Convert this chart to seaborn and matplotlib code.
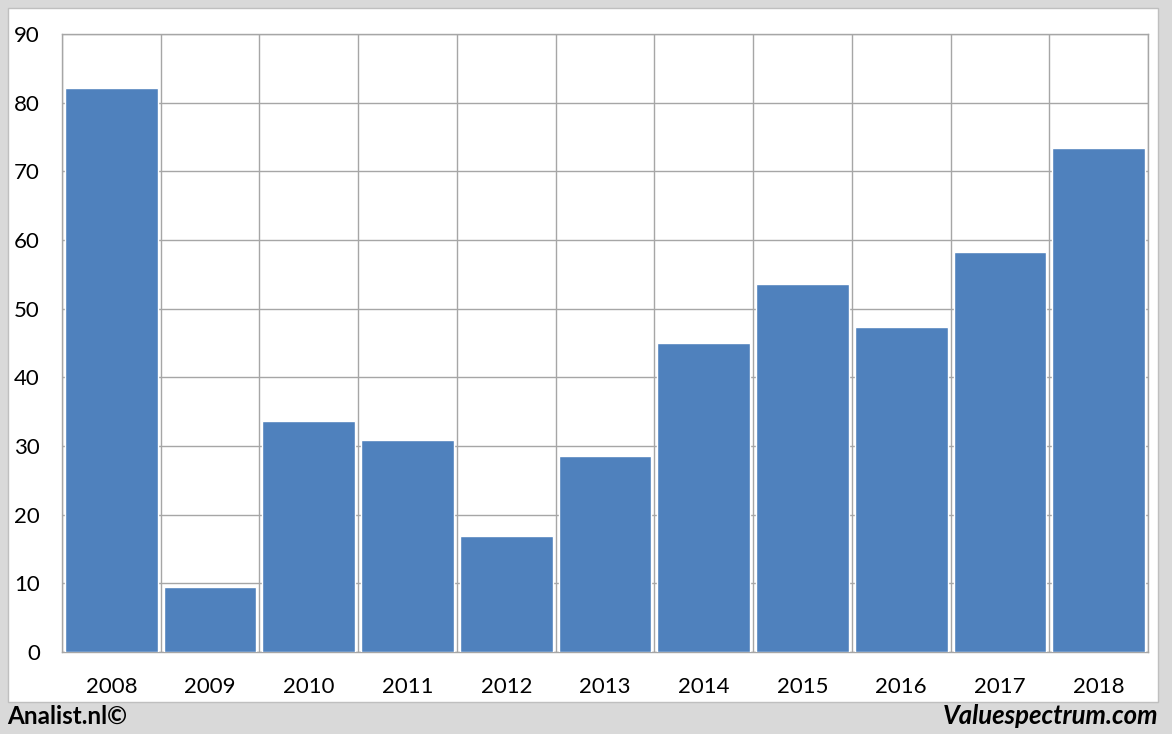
import matplotlib.pyplot as plt
import matplotlib.patches as mpatches
import seaborn as sns
import pandas as pd

# Data
years = ['2008', '2009', '2010', '2011', '2012', '2013', '2014', '2015', '2016', '2017', '2018']
values = [82.1, 9.5, 33.6, 30.9, 16.9, 28.5, 45.0, 53.6, 47.3, 58.2, 73.4]
y_ticks = [0, 10, 20, 30, 40, 50, 60, 70, 80, 90]

df = pd.DataFrame({'year': years, 'value': values})

sns.set_style('white')
plt.rcParams['font.family'] = ['Lato', 'DejaVu Sans']
plt.rcParams['text.color'] = 'black'

fig = plt.figure(figsize=(11.72, 7.34), dpi=100)
fig.patch.set_facecolor('#d9d9d9')

# Witte achtergrond van de grafiek
panel = mpatches.Rectangle((8 / 1172, 1 - 702 / 734), 1150 / 1172, 694 / 734,
                           transform=fig.transFigure, facecolor='white',
                           edgecolor='#bfbfbf', linewidth=1, zorder=-10)
fig.patches.append(panel)

ax = fig.add_axes([62 / 1172, 1 - 652 / 734, 1086 / 1172, 618 / 734])
ax.set_facecolor('white')

sns.barplot(data=df, x='year', y='value', color='#4f81bd', width=0.94,
            saturation=1, ax=ax, zorder=3)

ax.set_xlim(-0.5, len(years) - 0.5)
ax.set_ylim(0, 90)
ax.set_yticks(y_ticks)
ax.set_xlabel('')
ax.set_ylabel('')

# Rasterlijnen
ax.set_xticks([i + 0.5 for i in range(-1, len(years))], minor=True)
ax.grid(axis='y', which='major', color='#a6a6a6', linewidth=1, zorder=0)
ax.grid(axis='x', which='minor', color='#a6a6a6', linewidth=1, zorder=0)
ax.set_axisbelow(True)

ax.tick_params(axis='x', which='major', length=0, pad=18, labelsize=16, labelcolor='black')
ax.tick_params(axis='x', which='minor', length=8, width=1, color='#a6a6a6', direction='out')
ax.tick_params(axis='y', which='major', length=7, width=1, color='#a6a6a6',
               direction='out', pad=9, labelsize=16, labelcolor='black')

for s in ax.spines.values():
    s.set_color('#a6a6a6')
    s.set_linewidth(1)

# Voettekst
fig.text(7 / 1172, 1 - 716 / 734, 'Analist.nl©', fontsize=17.5, fontweight='bold',
         va='center', ha='left', color='black')
fig.text(1158 / 1172, 1 - 716 / 734, 'Valuespectrum.com', fontsize=18.5,
         fontweight='bold', fontstyle='italic', va='center', ha='right', color='black')

fig.savefig('out.png', dpi=100, facecolor=fig.get_facecolor())
